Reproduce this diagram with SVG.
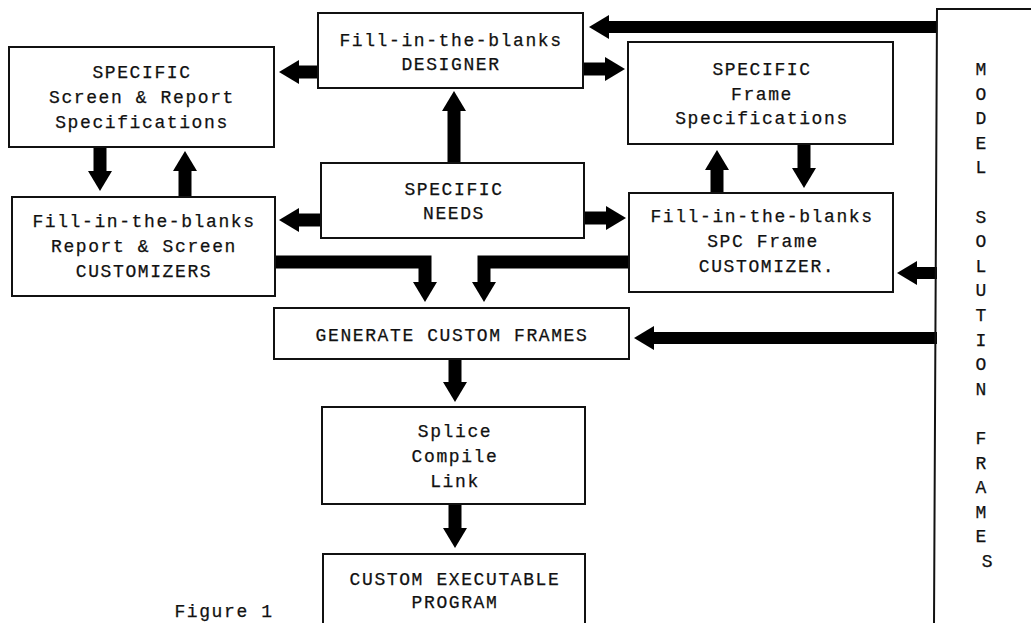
<svg xmlns="http://www.w3.org/2000/svg" width="1031" height="623" viewBox="0 0 1031 623">
  <style>
    .box { fill: #fff; stroke: #111; stroke-width: 2; }
    .lbl { font-family: "Liberation Mono", "DejaVu Sans Mono", monospace; font-size: 18px; letter-spacing: 1.6px; fill: #111; stroke: #111; stroke-width: 0.25px; text-anchor: middle; }
    .arr { fill: none; stroke: #000; stroke-width: 13; stroke-linejoin: miter; marker-end: url(#head); }
    .thin { stroke-width: 12; }
  </style>
  <defs>
    <marker id="head" markerUnits="userSpaceOnUse" viewBox="0 0 20 24" markerWidth="20" markerHeight="24" refX="1" refY="12" orient="auto">
      <path d="M0,0 L20,12 L0,24 Z" fill="#000"/>
    </marker>
  </defs>
  <rect width="1031" height="623" fill="#fff"/>

  <!-- connectors -->
  <g id="connectors">
    <path class="arr thin" d="M937,27 H608"/>
    <path class="arr" d="M318,72 H298"/>
    <path class="arr" d="M583,69 H606"/>
    <path class="arr" d="M454,163 V110"/>
    <path class="arr" d="M321,220 H298"/>
    <path class="arr" d="M584,218 H607"/>
    <path class="arr" d="M100,147 V172"/>
    <path class="arr" d="M185,197 V170"/>
    <path class="arr" d="M717,193 V169"/>
    <path class="arr" d="M804,144 V169"/>
    <path class="arr thin" d="M937,273 H916"/>
    <path class="arr" d="M275,262 H425 V283"/>
    <path class="arr" d="M629,262 H484 V283"/>
    <path class="arr thin" d="M937,338 H653"/>
    <path class="arr" d="M455,359 V383"/>
    <path class="arr" d="M455,504 V529"/>
  </g>

  <g id="designer">
    <rect class="box" x="318" y="13" width="265" height="75"/>
    <text class="lbl" x="451" y="46">Fill-in-the-blanks</text>
    <text class="lbl" x="451" y="70">DESIGNER</text>
  </g>

  <g id="screen-report-specs">
    <rect class="box" x="9" y="47" width="265" height="100"/>
    <text class="lbl" x="142" y="78">SPECIFIC</text>
    <text class="lbl" x="142" y="103">Screen &amp; Report</text>
    <text class="lbl" x="142" y="128">Specifications</text>
  </g>

  <g id="report-screen-customizers">
    <rect class="box" x="12" y="197" width="263" height="99"/>
    <text class="lbl" x="144" y="227">Fill-in-the-blanks</text>
    <text class="lbl" x="144" y="252">Report &amp; Screen</text>
    <text class="lbl" x="144" y="277">CUSTOMIZERS</text>
  </g>

  <g id="specific-needs">
    <rect class="box" x="321" y="163" width="263" height="75"/>
    <text class="lbl" x="454" y="195">SPECIFIC</text>
    <text class="lbl" x="454" y="219">NEEDS</text>
  </g>

  <g id="frame-specs">
    <rect class="box" x="628" y="42" width="265" height="102"/>
    <text class="lbl" x="762" y="75">SPECIFIC</text>
    <text class="lbl" x="762" y="100">Frame</text>
    <text class="lbl" x="762" y="124">Specifications</text>
  </g>

  <g id="spc-frame-customizer">
    <rect class="box" x="629" y="193" width="264" height="99"/>
    <text class="lbl" x="762" y="222">Fill-in-the-blanks</text>
    <text class="lbl" x="763" y="247">SPC Frame</text>
    <text class="lbl" x="767" y="272">CUSTOMIZER.</text>
  </g>

  <g id="generate">
    <rect class="box" x="274" y="308" width="355" height="51"/>
    <text class="lbl" x="452" y="341">GENERATE CUSTOM FRAMES</text>
  </g>

  <g id="splice">
    <rect class="box" x="322" y="407" width="263" height="97"/>
    <text class="lbl" x="455" y="437">Splice</text>
    <text class="lbl" x="455" y="462">Compile</text>
    <text class="lbl" x="455" y="487">Link</text>
  </g>

  <g id="executable">
    <rect class="box" x="323" y="554" width="262" height="90"/>
    <text class="lbl" x="455" y="585">CUSTOM EXECUTABLE</text>
    <text class="lbl" x="455" y="608">PROGRAM</text>
  </g>

  <g id="model-solution-frames">
    <path d="M1033,9 H937 L934,625" fill="none" stroke="#111" stroke-width="2"/>
    <text class="lbl" x="988" y="75">
      <tspan x="988" dy="0">M</tspan>
      <tspan x="988" dy="24.6">O</tspan>
      <tspan x="988" dy="24.6">D</tspan>
      <tspan x="988" dy="24.6">E</tspan>
      <tspan x="988" dy="24.6">L</tspan>
      <tspan x="988" dy="49.2">S</tspan>
      <tspan x="988" dy="24.6">O</tspan>
      <tspan x="988" dy="24.6">L</tspan>
      <tspan x="988" dy="24.6">U</tspan>
      <tspan x="988" dy="24.6">T</tspan>
      <tspan x="988" dy="24.6">I</tspan>
      <tspan x="988" dy="24.6">O</tspan>
      <tspan x="988" dy="24.6">N</tspan>
      <tspan x="988" dy="49.2">F</tspan>
      <tspan x="988" dy="24.6">R</tspan>
      <tspan x="988" dy="24.6">A</tspan>
      <tspan x="988" dy="24.6">M</tspan>
      <tspan x="988" dy="24.6">E</tspan>
      <tspan x="988" dy="24.6">S</tspan>
    </text>
  </g>

  <text class="lbl" x="224" y="617">Figure 1</text>
</svg>
